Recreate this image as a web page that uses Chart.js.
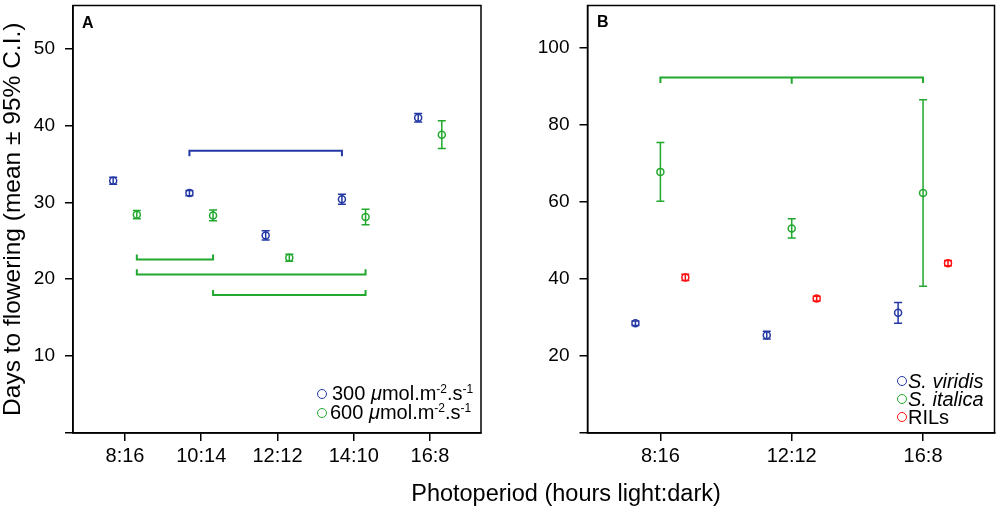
<!DOCTYPE html>
<html>
<head>
<meta charset="utf-8">
<script src="https://cdn.jsdelivr.net/npm/chart.js@4.4.1/dist/chart.umd.min.js"></script>
<style>
  html, body { margin: 0; padding: 0; background: #fff; }
  body { width: 1000px; height: 512px; position: relative; overflow: hidden;
         font-family: "Liberation Sans", Arial, sans-serif; color: #000; }
  .panel { position: absolute; top: 0; height: 512px; }
  #wrapA { left: 0; width: 490px; }
  #wrapB { left: 490px; width: 510px; }
  .tag { position: absolute; font-weight: bold; font-size: 16px; line-height: 16px; }
  .legend { position: absolute; font-size: 20px; }
  .legend .row { display: flex; align-items: center; white-space: nowrap; }
  .legend .dot { display: inline-block; width: 8px; height: 8px; border: 1.5px solid; border-radius: 50%; }
  .sup { font-size: 0.6em; position: relative; top: -0.55em; }
  #xtitle { position: absolute; left: 266px; width: 600px; top: 480px; text-align: center;
            font-size: 23.5px; line-height: 26px; }
</style>
</head>
<body>
<div class="panel" id="wrapA"><canvas id="chartA"></canvas></div>
<div class="panel" id="wrapB"><canvas id="chartB"></canvas></div>

<div class="tag" style="left:82px; top:15px;">A</div>
<div class="tag" style="left:597px; top:14px;">B</div>

<div class="legend" style="left:317px; top:384px;">
  <div class="row" style="height:19px;"><span class="dot" style="border-color:#2338a4; margin-right:5px;"></span><span>300 <i>&mu;</i>mol.m<span class="sup">-2</span>.s<span class="sup">-1</span></span></div>
  <div class="row" style="height:19px;"><span class="dot" style="border-color:#22a82e; margin-right:3px;"></span><span>600 <i>&mu;</i>mol.m<span class="sup">-2</span>.s<span class="sup">-1</span></span></div>
</div>
<div class="legend" style="left:897px; top:372px;">
  <div class="row" style="height:18px;"><span class="dot" style="border-color:#2338a4; margin-right:1px;"></span><i>S. viridis</i></div>
  <div class="row" style="height:18px;"><span class="dot" style="border-color:#22a82e; margin-right:1px;"></span><i>S. italica</i></div>
  <div class="row" style="height:18px;"><span class="dot" style="border-color:#ff1010; margin-right:1px;"></span>RILs</div>
</div>

<div id="xtitle">Photoperiod (hours light:dark)</div>

<script>
// panel A: light intensity comparison
const photoA = ['8:16', '10:14', '12:12', '14:10', '16:8'];
const mean300 = [32.8, 31.2, 25.7, 30.4, 41.0];
const ci300 = [0.45, 0.35, 0.6, 0.65, 0.55];
const mean600 = [28.4, 28.3, 22.8, 28.1, 38.8];
const ci600 = [0.55, 0.7, 0.45, 1.0, 1.8];
const yTicksA = [0, 10, 20, 30, 40, 50];
// brackets: [from category, to category, line y, tip y]
const brackets300 = [[2, 4, 36.7, 36.0]];
const brackets600 = [[1, 2, 22.55, 23.2], [1, 4, 20.6, 21.3], [2, 4, 17.95, 18.6]];

// panel B: species comparison
const photoB = ['8:16', '12:12', '16:8'];
const meanViridis = [28.5, 25.4, 31.2];
const ciViridis = [0.6, 1.0, 2.7];
const meanItalica = [67.8, 53.1, 62.3];
const ciItalica = [7.6, 2.5, 24.2];
const meanRILs = [40.4, 34.9, 44.1];
const ciRILs = [0.8, 0.6, 0.7];
const yTicksB = [0, 20, 40, 60, 80, 100];
const bracketsItalica = [[1, 3, 92.3, 90.9], [2, 2, 92.3, 90.7]];

const BLUE = '#2338a4', GREEN = '#22a82e', RED = '#ff1010';

Chart.defaults.font.family = '"Liberation Sans", Arial, sans-serif';
Chart.defaults.color = '#000';
Chart.defaults.animation = false;

function points(means, dodge) {
    return means.map((v, i) => ({ x: i + 1 + dodge, y: v }));
}

function pointSet(means, ci, color, dodge) {
    return {
        data: points(means, dodge),
        ci: ci,
        borderColor: color,
        backgroundColor: 'rgba(0,0,0,0)',
        pointRadius: 3.5,
        pointBorderWidth: 1.5,
        showLine: false
    };
}

function bracketSets(list, color, dodge) {
    return list.map(b => ({
        data: [
            { x: b[0] + dodge, y: b[3] },
            { x: b[0] + dodge, y: b[2] },
            { x: b[1] + dodge, y: b[2] },
            { x: b[1] + dodge, y: b[3] }
        ],
        borderColor: color,
        borderWidth: 2,
        pointRadius: 0,
        showLine: true,
        fill: false
    }));
}

// vertical confidence bars with caps
const errorBars = {
    id: 'errorBars',
    afterDatasetsDraw(chart) {
        const { ctx, scales: { x, y } } = chart;
        chart.data.datasets.forEach(ds => {
            if (!ds.ci) return;
            ctx.save();
            ctx.strokeStyle = ds.borderColor;
            ctx.lineWidth = 1.5;
            ds.data.forEach((p, j) => {
                const px = x.getPixelForValue(p.x);
                const lo = y.getPixelForValue(p.y - ds.ci[j]);
                const hi = y.getPixelForValue(p.y + ds.ci[j]);
                ctx.beginPath();
                ctx.moveTo(px, lo); ctx.lineTo(px, hi);
                ctx.moveTo(px - 4, lo); ctx.lineTo(px + 4, lo);
                ctx.moveTo(px - 4, hi); ctx.lineTo(px + 4, hi);
                ctx.stroke();
            });
            ctx.restore();
        });
    }
};

// box round the plot area
const frame = {
    id: 'frame',
    afterDraw(chart) {
        const { ctx, chartArea: a } = chart;
        ctx.save();
        ctx.strokeStyle = '#000';
        ctx.lineWidth = 1.5;
        ctx.strokeRect(a.left, a.top, a.right - a.left, a.bottom - a.top);
        ctx.restore();
    }
};

function makeChart(id, cfg) {
    return new Chart(document.getElementById(id), {
        type: 'scatter',
        data: { datasets: cfg.datasets },
        options: {
            responsive: true,
            maintainAspectRatio: false,
            layout: { padding: { top: 3, right: cfg.padRight, left: 0, bottom: 0 } },
            plugins: { legend: { display: false }, tooltip: { enabled: false } },
            scales: {
                x: {
                    type: 'linear',
                    min: cfg.xMin,
                    max: cfg.xMax,
                    afterBuildTicks: s => { s.ticks = cfg.labels.map((l, i) => ({ value: i + 1 })); },
                    afterFit: s => { s.height = 79; s.paddingLeft = 0; s.paddingRight = 0; },
                    ticks: {
                        font: { size: 20 },
                        padding: 3,
                        maxRotation: 0,
                        callback: v => cfg.labels[Math.round(v) - 1]
                    },
                    grid: { drawOnChartArea: false, drawTicks: true, tickLength: 8, color: '#000', lineWidth: 1.5 },
                    border: { display: true, color: '#000', width: 1.5 }
                },
                y: {
                    type: 'linear',
                    min: 0,
                    max: cfg.yMax,
                    afterBuildTicks: s => { s.ticks = cfg.yTicks.map(v => ({ value: v })); },
                    afterFit: s => { s.width = cfg.yWidth; s.paddingTop = 0; s.paddingBottom = 0; },
                    ticks: {
                        font: { size: 19 },
                        padding: 10,
                        callback: v => (v === 0 ? '' : v)
                    },
                    grid: { drawOnChartArea: false, drawTicks: true, tickLength: 8, color: '#000', lineWidth: 1.5 },
                    border: { display: true, color: '#000', width: 1.5 },
                    title: {
                        display: !!cfg.yTitle,
                        text: cfg.yTitle || '',
                        font: { size: 24.5, lineHeight: 1 },
                        padding: { top: 1, bottom: 0 }
                    }
                }
            }
        },
        plugins: [errorBars, frame]
    });
}

makeChart('chartA', {
    labels: photoA,
    xMin: 0.318, xMax: 5.669,
    yMax: 55.6, yTicks: yTicksA,
    yWidth: 73, padRight: 9,
    yTitle: 'Days to flowering (mean \u00b1 95% C.I.)',
    datasets: [
        pointSet(mean300, ci300, BLUE, -0.155),
        pointSet(mean600, ci600, GREEN, 0.155),
        ...bracketSets(brackets300, BLUE, -0.155),
        ...bracketSets(brackets600, GREEN, 0.155)
    ]
});

makeChart('chartB', {
    labels: photoB,
    xMin: 0.445, xMax: 3.544,
    yMax: 111, yTicks: yTicksB,
    yWidth: 97.5, padRight: 4,
    datasets: [
        pointSet(meanViridis, ciViridis, BLUE, -0.19),
        pointSet(meanItalica, ciItalica, GREEN, 0),
        pointSet(meanRILs, ciRILs, RED, 0.19),
        ...bracketSets(bracketsItalica, GREEN, 0)
    ]
});
</script>
</body>
</html>
